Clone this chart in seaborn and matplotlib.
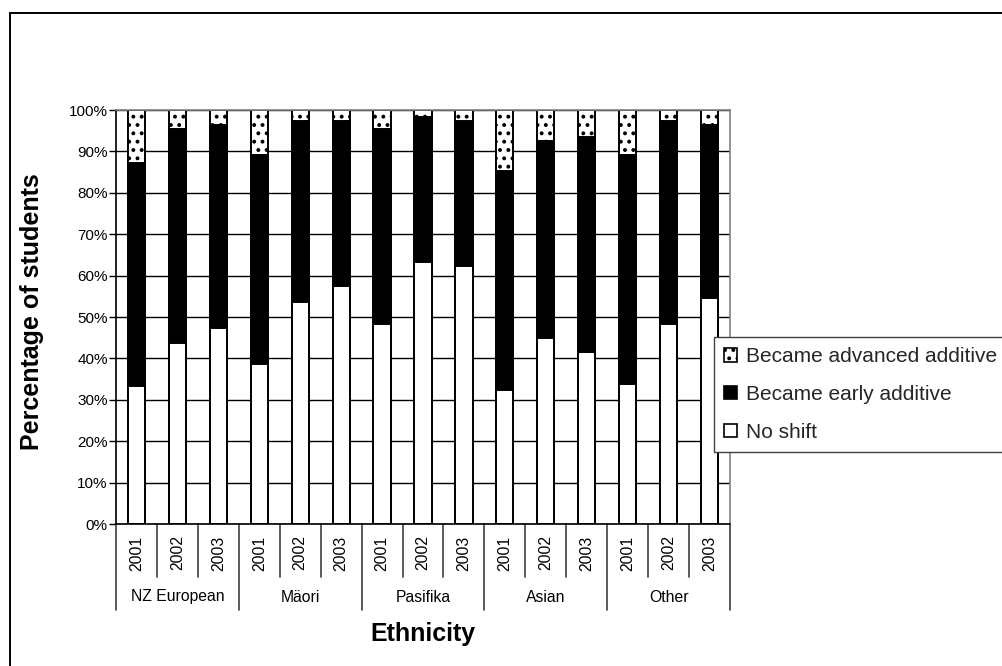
import numpy as np
import pandas as pd
import matplotlib
matplotlib.use("Agg")
import matplotlib.pyplot as plt
from matplotlib.patches import Patch, Rectangle
from matplotlib.lines import Line2D
import seaborn as sns

# Ethnic groups and survey years
groups = ["NZ European", "Mäori", "Pasifika", "Asian", "Other"]
years = ["2001", "2002", "2003"]

# Percentage of students in each outcome (per group, per year)
no_shift = [33.3, 43.6, 47.4, 38.7, 53.7, 57.6, 48.4, 63.4, 62.4,
            32.4, 44.9, 41.6, 33.9, 48.4, 54.7]
early_additive = [53.8, 51.7, 48.9, 50.4, 43.6, 39.7, 46.9, 35.0, 34.9,
                  52.8, 47.5, 51.8, 55.2, 48.9, 41.6]
advanced_additive = [12.9, 4.7, 3.7, 10.9, 2.7, 2.7, 4.7, 1.6, 2.7,
                     14.8, 7.6, 6.6, 10.9, 2.7, 3.7]

series_names = ["Became advanced additive", "Became early additive", "No shift"]
y_ticks = [0, 10, 20, 30, 40, 50, 60, 70, 80, 90, 100]

sns.set_theme(style="white")
plt.rcParams["font.family"] = ["Liberation Sans", "DejaVu Sans"]
plt.rcParams["hatch.linewidth"] = 1.6

labels = [f"{g} {y}" for g in groups for y in years]
df = pd.DataFrame({
    "label": labels,
    "no_shift": no_shift,
    "early": early_additive,
    "advanced": advanced_additive,
})
df["top_early"] = df["no_shift"] + df["early"]
df["top_all"] = df["top_early"] + df["advanced"]

W, H = 1002, 666
fig = plt.figure(figsize=(W / 100, H / 100), dpi=100)
fig.patch.set_facecolor("white")
ax_l, ax_r, ax_t, ax_b = 116, 730, 110, 524
ax = fig.add_axes([ax_l / W, 1 - ax_b / H, (ax_r - ax_l) / W, (ax_b - ax_t) / H])

bar_kw = dict(data=df, x="label", order=labels, width=0.42, errorbar=None,
              saturation=1, edgecolor="black", linewidth=1.4, ax=ax)
# Stacked bars: draw cumulative totals from the top layer downwards
sns.barplot(y="top_all", color="white", hatch="..", **bar_kw)
sns.barplot(y="top_early", color="black", **bar_kw)
sns.barplot(y="no_shift", color="white", **bar_kw)

n = len(labels)
ax.set_xlim(-0.5, n - 0.5)
ax.set_ylim(0, 100)
ax.set_yticks(y_ticks)
ax.set_yticklabels([f"{v}%" for v in y_ticks], fontsize=11)
ax.set_xticks([])
ax.set_xlabel("")
ax.set_ylabel("")
ax.tick_params(axis="y", direction="out", length=5, width=1, color="black",
               pad=1, left=True, labelcolor="black")

ax.set_axisbelow(True)
ax.yaxis.grid(True, color="black", linewidth=1.0)
for side in ["top", "right"]:
    ax.spines[side].set_color("#808080")
    ax.spines[side].set_linewidth(1.2)
for side in ["left", "bottom"]:
    ax.spines[side].set_color("black")
    ax.spines[side].set_linewidth(1.2)

# Two-level category axis: years (rotated) and ethnic group names
trans = ax.get_xaxis_transform()
ax_h = ax_b - ax_t
def dy(px):
    return -px / ax_h

for i in range(n + 1):
    x = i - 0.5
    depth = 86 if i % 3 == 0 else 53
    ax.add_line(Line2D([x, x], [0, dy(depth)], transform=trans, color="#404040",
                       linewidth=1.2, clip_on=False))
for i, lab in enumerate(labels):
    ax.text(i, dy(553 - ax_b), years[i % 3], transform=trans, rotation=90,
            ha="center", va="center", fontsize=11.3, color="black")
for g, name in enumerate(groups):
    ax.text(g * 3 + 1, dy(597 - ax_b), name, transform=trans, ha="center",
            va="center", fontsize=11.3, color="black")

fig.text(423 / W, 1 - 634 / H, "Ethnicity", ha="center", va="center",
         fontsize=18, fontweight="bold", color="black")
fig.text(32 / W, 1 - 312 / H, "Percentage of students", rotation=90,
         ha="center", va="center", fontsize=18, fontweight="bold", color="black")

handles = [
    Patch(facecolor="white", edgecolor="black", hatch="..", linewidth=1.2),
    Patch(facecolor="black", edgecolor="black", linewidth=1.2),
    Patch(facecolor="white", edgecolor="black", linewidth=1.2),
]
leg = fig.legend(handles, series_names, loc="upper left",
                 bbox_to_anchor=(714 / W, 1 - 337 / H), borderaxespad=0,
                 fontsize=15, handlelength=0.6, handleheight=0.6,
                 handletextpad=0.45, labelspacing=0.9, borderpad=0.5,
                 fancybox=False, framealpha=1, edgecolor="#404040")
leg.get_frame().set_linewidth(1.0)

# Chart-area border (left and top edges visible)
fig.add_artist(Rectangle((10 / W, -0.5), 2, (1 - 13 / H) + 0.5,
                         transform=fig.transFigure, fill=False,
                         edgecolor="black", linewidth=1.4, clip_on=False))

fig.savefig("out.png", dpi=100, facecolor="white")
